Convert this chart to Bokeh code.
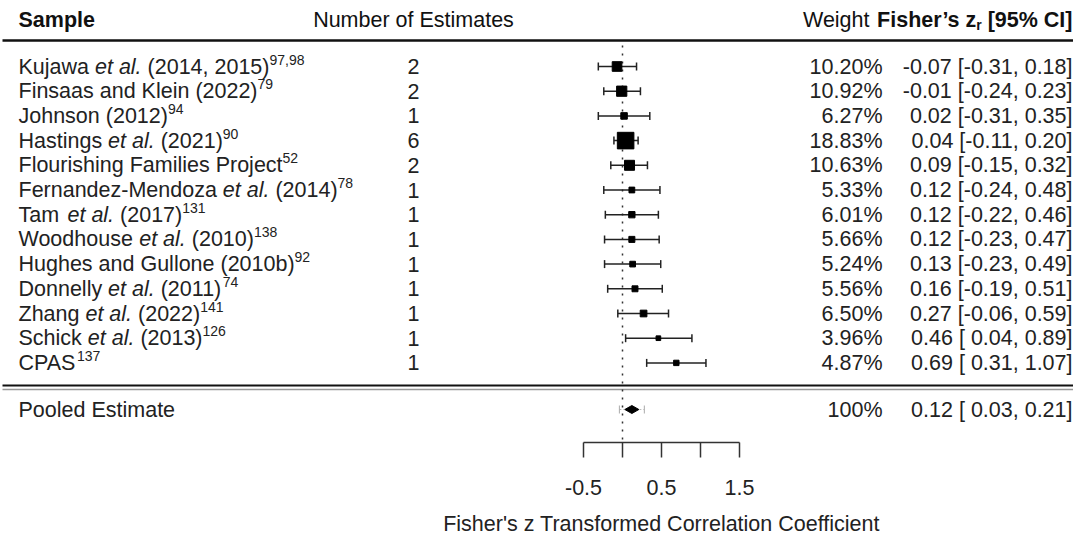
import numpy as np
from bokeh.plotting import figure
from bokeh.models import Range1d
from bokeh.core.properties import value
from bokeh.embed import file_html
from bokeh.resources import INLINE

# ---------------- data ----------------
label_pre = ["Kujawa ", "Finsaas and Klein (2022)", "Johnson (2012)", "Hastings ",
             "Flourishing Families Project", "Fernandez-Mendoza ", "Tam ", "Woodhouse ",
             "Hughes and Gullone (2010b)", "Donnelly ", "Zhang ", "Schick ", "CPAS"]
label_ital = ["et al.", "", "", "et al.", "", "et al.", "et al.", "et al.", "", "et al.",
              "et al.", "et al.", ""]
label_post = [" (2014, 2015)", "", "", " (2021)", "", " (2014)", " (2017)", " (2010)", "",
              " (2011)", " (2022)", " (2013)", ""]
label_ref = ["97,98", "79", "94", "90", "52", "78", "131", "138", "92", "74", "141", "126", "137"]
n_estimates = [2, 2, 1, 6, 2, 1, 1, 1, 1, 1, 1, 1, 1]
weights = [10.20, 10.92, 6.27, 18.83, 10.63, 5.33, 6.01, 5.66, 5.24, 5.56, 6.50, 3.96, 4.87]
est = [-0.07, -0.01, 0.02, 0.04, 0.09, 0.12, 0.12, 0.12, 0.13, 0.16, 0.27, 0.46, 0.69]
ci_lo = [-0.31, -0.24, -0.31, -0.11, -0.15, -0.24, -0.22, -0.23, -0.23, -0.19, -0.06, 0.04, 0.31]
ci_hi = [0.18, 0.23, 0.35, 0.20, 0.32, 0.48, 0.46, 0.47, 0.49, 0.51, 0.59, 0.89, 1.07]
pooled_label = "Pooled Estimate"
pooled_est, pooled_lo, pooled_hi = 0.12, 0.03, 0.21
pooled_pi_lo, pooled_pi_hi = -0.04, 0.28
axis_ticks = [-0.5, 0.0, 0.5, 1.0, 1.5]
axis_labelled = [-0.5, 0.5, 1.5]
axis_tick_labels = ["-0.5", "0.5", "1.5"]
axis_title = "Fisher's z Transformed Correlation Coefficient"

# ---------------- layout helpers ----------------
FONT = "Liberation Sans"
FS = 21.5
SUB = 14.0
ZERO_PX, PX_UNIT = 630.0, 78.0
ROW0_PX, ROW_PX = 74.0, 24.7
AXIS_Y = 450


def px2z(x):
    return (x - ZERO_PX) / PX_UNIT


def py2r(y):
    return (y - ROW0_PX) / ROW_PX


REG = {' ': 278, "'": 191, '(': 333, ')': 333, ',': 278, '-': 333, '.': 278, '%': 889,
       '[': 278, ']': 278,
       'A': 667, 'B': 667, 'C': 722, 'D': 722, 'E': 667, 'F': 611, 'G': 778, 'H': 722,
       'I': 278, 'J': 500, 'K': 667, 'L': 556, 'M': 833, 'N': 722, 'O': 778, 'P': 667,
       'Q': 778, 'R': 722, 'S': 667, 'T': 611, 'U': 722, 'V': 667, 'W': 944, 'X': 667,
       'Y': 667, 'Z': 611,
       'a': 556, 'b': 556, 'c': 500, 'd': 556, 'e': 556, 'f': 278, 'g': 556, 'h': 556,
       'i': 222, 'j': 222, 'k': 500, 'l': 222, 'm': 833, 'n': 556, 'o': 556, 'p': 556,
       'q': 556, 'r': 333, 's': 500, 't': 278, 'u': 556, 'v': 500, 'w': 722, 'x': 500,
       'y': 500, 'z': 500}
BOLD = {' ': 278, '\u2019': 278, '[': 333, ']': 333, '%': 889, 'C': 722, 'I': 278,
        'F': 611, 'S': 667, 'i': 278, 's': 556, 'h': 611, 'e': 556, 'r': 389, 'z': 500,
        'a': 556, 'm': 889, 'p': 611, 'l': 278}


def tw(s, size, bold=False):
    tab = BOLD if bold else REG
    return sum(tab.get(c, 556) for c in s) / 1000.0 * size


def lead(s, size, bold=False):
    """width of leading spaces (SVG drops them) and the stripped text"""
    t = s.lstrip(" ")
    return tw(s[:len(s) - len(t)], size, bold), t


W, H = 1073, 539
p = figure(width=W, height=H, output_backend="svg", toolbar_location=None,
           x_range=Range1d(px2z(8), px2z(8 + W)), y_range=Range1d(py2r(8 + H), py2r(8)),
           x_axis_location=None, y_axis_location=None,
           min_border=0, outline_line_color=None,
           background_fill_color="white", border_fill_color="white")
p.xgrid.visible = False
p.ygrid.visible = False

TXT = "#222222"
HDR = "#111111"


def txt(xs, ys, texts, size=FS, style="normal", align="left", color=TXT):
    p.text(x=xs, y=ys, text=texts, text_font=value(FONT), text_font_size=f"{size}px",
           text_font_style=style, text_align=align, text_baseline="middle",
           text_color=color)


rows = list(range(len(est)))

# headers
y_head = py2r(27)
txt([px2z(26)], [y_head], ["Sample"], style="bold", color=HDR)
txt([px2z(421)], [y_head], ["Number of Estimates"], align="center", color=HDR)
txt([px2z(877)], [y_head], ["Weight"], align="right", color=HDR)
h1, h2, h3 = "Fisher\u2019s z", "r", " [95% CI]"
total = tw(h1, FS, True) + tw(h2, SUB, True) + tw(h3, FS, True)
x0 = 1080 - total
txt([px2z(x0)], [y_head], [h1], style="bold", color=HDR)
x1 = x0 + tw(h1, FS, True)
txt([px2z(x1)], [y_head + 5 / ROW_PX], [h2], size=SUB, style="bold", color=HDR)
x2 = x1 + tw(h2, SUB, True)
sp, h3s = lead(h3, FS, True)
txt([px2z(x2 + sp)], [y_head], [h3s], style="bold", color=HDR)

# header rule
p.segment(x0=[px2z(10)], x1=[px2z(1089)], y0=[py2r(48)], y1=[py2r(48)],
          line_color=HDR, line_width=2.5)

# study labels (pieces)
LX = 26.0
xs_pre, xs_it, xs_post, xs_ref, t_post = [], [], [], [], []
for a, b, c in zip(label_pre, label_ital, label_post):
    xa = LX
    xb = xa + tw(a, FS)
    xc = xb + tw(b, FS)
    xd = xc + tw(c, FS)
    sp, cs = lead(c, FS)
    xs_pre.append(px2z(xa)); xs_it.append(px2z(xb)); xs_post.append(px2z(xc + sp))
    xs_ref.append(px2z(xd)); t_post.append(cs)
txt(xs_pre, rows, label_pre)
txt(xs_it, rows, label_ital, style="italic")
txt(xs_post, rows, t_post)
txt(xs_ref, [r - 7.0 / ROW_PX for r in rows], label_ref, size=SUB)

# counts, weights, CI text
txt([px2z(421)] * len(rows), rows, [str(n) for n in n_estimates], align="center")
txt([px2z(890)] * len(rows), rows, [f"{w:.2f}%" for w in weights], align="right")
ci_txt = [f"{e:.2f} [{l:5.2f}, {h:.2f}]" for e, l, h in zip(est, ci_lo, ci_hi)]
txt([px2z(1080)] * len(rows), rows, ci_txt, align="right")

# pooled row text
y_pool = py2r(417)
txt([px2z(LX)], [y_pool], [pooled_label])
txt([px2z(890)], [y_pool], ["100%"], align="right")
txt([px2z(1080)], [y_pool], [f"{pooled_est:.2f} [{pooled_lo:5.2f}, {pooled_hi:.2f}]"], align="right")

# double rule
p.segment(x0=[px2z(10)], x1=[px2z(1089)], y0=[py2r(393)], y1=[py2r(393)],
          line_color=HDR, line_width=2)
p.segment(x0=[px2z(10)], x1=[px2z(1089)], y0=[py2r(397)], y1=[py2r(397)],
          line_color="#999999", line_width=1.5)

# reference dotted line at zero
p.segment(x0=[0], x1=[0], y0=[py2r(53)], y1=[py2r(AXIS_Y)], line_color="#333333",
          line_width=1.5, line_dash="2 6")

# CIs
LC = "#222222"
p.segment(x0=ci_lo, x1=ci_hi, y0=rows, y1=rows, line_color=LC, line_width=1.5)
p.scatter(x=ci_lo + ci_hi, y=rows + rows, marker="dash", angle=np.pi / 2, size=8,
          line_color=LC, line_width=1.5)
sizes = [1.5 + 0.8 * w for w in weights]
p.scatter(x=est, y=rows, marker="square", size=sizes, fill_color="black", line_color="black")

# pooled: prediction interval + diamond
p.segment(x0=[pooled_pi_lo], x1=[pooled_pi_hi], y0=[y_pool], y1=[y_pool],
          line_color="#bbbbbb", line_width=1, line_dash="2 2")
p.scatter(x=[pooled_pi_lo, pooled_pi_hi], y=[y_pool, y_pool], marker="dash",
          angle=np.pi / 2, size=8, line_color="#aaaaaa", line_width=1)
dh = 4.0 / ROW_PX
p.patch(x=[pooled_lo, pooled_est, pooled_hi, pooled_est],
        y=[y_pool, y_pool - dh, y_pool, y_pool + dh], fill_color="black", line_color="black")

# x axis of the forest panel (line, ticks, tick labels, title) on the same scales
AC = "#333333"
ya = py2r(AXIS_Y)
p.segment(x0=[axis_ticks[0]], x1=[axis_ticks[-1]], y0=[ya], y1=[ya], line_color=AC,
          line_width=1.5)
p.segment(x0=axis_ticks, x1=axis_ticks, y0=[ya] * len(axis_ticks),
          y1=[py2r(AXIS_Y + 15)] * len(axis_ticks), line_color=AC, line_width=1.5)
txt(axis_labelled, [py2r(495)] * len(axis_labelled), axis_tick_labels, align="center")
txt([(axis_ticks[0] + axis_ticks[-1]) / 2], [py2r(531)], [axis_title], align="center")

open("out.html", "w").write(file_html(p, INLINE))
